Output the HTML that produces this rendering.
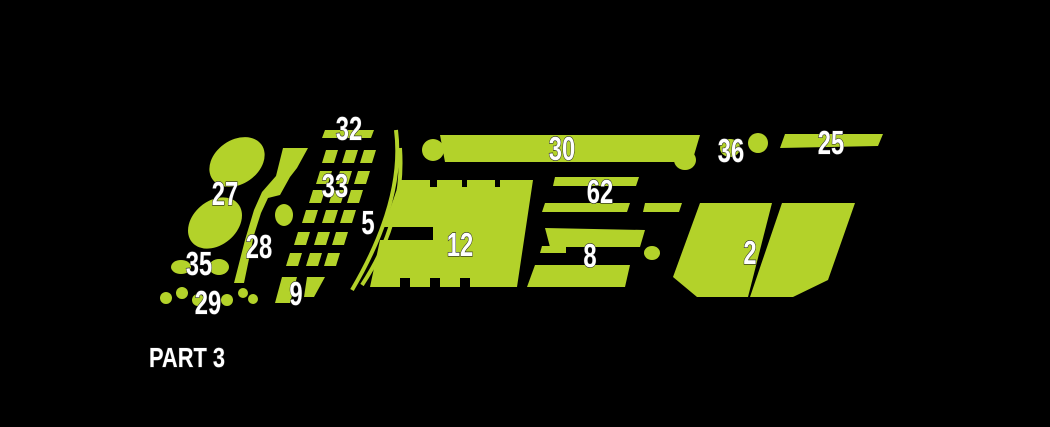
<!DOCTYPE html>
<html><head><style>
html,body{margin:0;padding:0;background:#000;width:1050px;height:427px;overflow:hidden}
text{font-family:"Liberation Sans Narrow","Liberation Sans",sans-serif;font-weight:bold;fill:#fff;stroke:#222;stroke-width:1.2;paint-order:stroke;text-anchor:middle}
</style></head><body>
<svg width="1050" height="427" viewBox="0 0 1050 427">
<g fill="#b3d22a">
<ellipse cx="237" cy="162" rx="30" ry="22" transform="rotate(-35 237 162)"/>
<ellipse cx="215" cy="223" rx="30" ry="22" transform="rotate(-40 215 223)"/>
<ellipse cx="181" cy="267" rx="10" ry="7"/>
<ellipse cx="219" cy="267" rx="10" ry="8"/>
<circle cx="166" cy="298" r="6"/><circle cx="182" cy="293" r="6"/><circle cx="198" cy="300" r="6"/>
<circle cx="227" cy="300" r="6"/><circle cx="243" cy="293" r="5"/><circle cx="253" cy="299" r="5"/>
<polygon points="283,148 308,148 297,168 290,177 280,195 268,198 261,213 254,235 244,283 234,283 245,240 254,210 262,192 276,176"/>
<ellipse cx="284" cy="215" rx="9" ry="11"/>
<polygon points="325,130 374,130 371,138 322,138"/>
<g id="r">
<polygon points="326,150 338,150 334,163 322,163"/>
<polygon points="346,150 358,150 354,163 342,163"/>
<polygon points="364,150 376,150 372,163 360,163"/>
</g>
<use href="#r" transform="translate(-6,21)"/>
<use href="#r" transform="translate(-13,40)"/>
<use href="#r" transform="translate(-20,60)"/>
<use href="#r" transform="translate(-28,82)"/>
<use href="#r" transform="translate(-36,103)"/>
<polygon points="282,277 297,277 290,303 275,303"/>
<polygon points="307,277 325,277 314,297 304,297"/>
<path d="M396,130 Q405,200 352,290" fill="none" stroke="#b3d22a" stroke-width="4"/>
<path d="M400,148 Q405,220 362,285" fill="none" stroke="#b3d22a" stroke-width="4"/>
<polygon points="440,135 700,135 692,162 445,162"/>
<circle cx="433" cy="150" r="11"/>
<polygon points="400,180 430,180 430,187 437,187 437,180 462,180 462,187 467,187 467,180 495,180 495,187 500,187 500,180 533,180 517,287 470,287 470,278 460,278 460,287 440,287 440,278 430,278 430,287 410,287 410,278 400,278 400,287 370,287 380,240 433,240 433,227 384,227"/>
<polygon points="555,177 639,177 636,186 553,186"/>
<polygon points="545,203 630,203 627,212 542,212"/>
<polygon points="645,203 682,203 679,212 643,212"/>
<polygon points="545,228 645,230 640,247 550,247"/>
<polygon points="542,246 566,246 566,253 540,253"/>
<polygon points="535,265 630,265 625,287 527,287"/>
<ellipse cx="652" cy="253" rx="8" ry="7"/>
<ellipse cx="685" cy="160" rx="11" ry="10"/>
<ellipse cx="730" cy="148" rx="10" ry="9"/>
<ellipse cx="758" cy="143" rx="10" ry="10"/>
<polygon points="785,134 883,134 878,146 780,148"/>
<polygon points="700,203 772,203 748,297 697,297 673,277"/>
<polygon points="782,203 855,203 828,280 793,297 750,297"/>
</g>
<g font-size="33">
<text x="349" y="140" transform="translate(349 0) scale(0.72 1) translate(-349 0)">32</text>
<text x="335" y="197" transform="translate(335 0) scale(0.72 1) translate(-335 0)">33</text>
<text x="368" y="234" transform="translate(368 0) scale(0.72 1) translate(-368 0)">5</text>
<text x="225" y="205" transform="translate(225 0) scale(0.72 1) translate(-225 0)">27</text>
<text x="259" y="258" transform="translate(259 0) scale(0.72 1) translate(-259 0)">28</text>
<text x="199" y="275" transform="translate(199 0) scale(0.72 1) translate(-199 0)">35</text>
<text x="208" y="314" transform="translate(208 0) scale(0.72 1) translate(-208 0)">29</text>
<text x="296" y="305" transform="translate(296 0) scale(0.72 1) translate(-296 0)">9</text>
<text x="562" y="160" transform="translate(562 0) scale(0.72 1) translate(-562 0)">30</text>
<text x="600" y="203" transform="translate(600 0) scale(0.72 1) translate(-600 0)">62</text>
<text x="460" y="256" transform="translate(460 0) scale(0.72 1) translate(-460 0)">12</text>
<text x="590" y="267" transform="translate(590 0) scale(0.72 1) translate(-590 0)">8</text>
<text x="731" y="162" transform="translate(731 0) scale(0.72 1) translate(-731 0)">36</text>
<text x="750" y="264" transform="translate(750 0) scale(0.72 1) translate(-750 0)">2</text>
<text x="831" y="154" transform="translate(831 0) scale(0.72 1) translate(-831 0)">25</text>
</g>
<text x="187" y="367" font-size="28" transform="translate(187 0) scale(0.78 1) translate(-187 0)">PART 3</text>
</svg>
</body></html>
